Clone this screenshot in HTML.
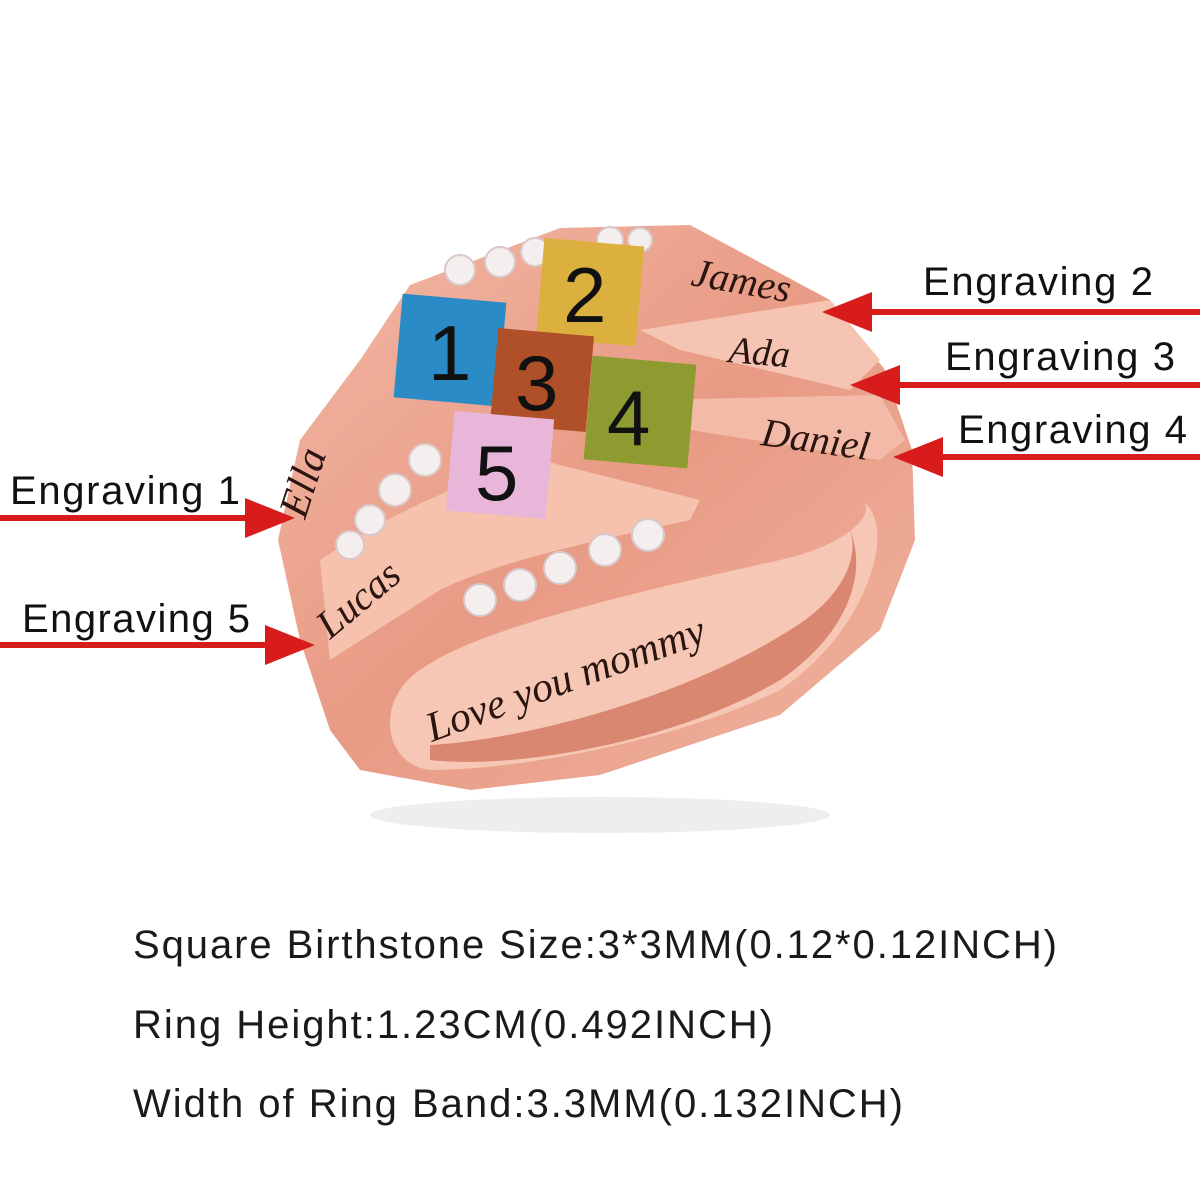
<!DOCTYPE html>
<html><head><meta charset="utf-8"><style>
html,body{margin:0;padding:0;background:#fff;width:1200px;height:1200px;overflow:hidden}
svg{display:block}
.lbl{font-family:"Liberation Sans",sans-serif;font-size:40px;fill:#111}
.num{font-family:"Liberation Sans",sans-serif;font-size:78px;fill:#111}
.eng{font-family:"Liberation Serif",serif;font-style:italic;fill:#2a1510}
.info{font-family:"Liberation Sans",sans-serif;font-size:40px;fill:#1a1a1a}
</style></head><body>
<svg width="1200" height="1200" viewBox="0 0 1200 1200">
<defs>
<linearGradient id="g1" x1="0" y1="0" x2="1" y2="1">
<stop offset="0" stop-color="#f3b9a6"/><stop offset="0.5" stop-color="#e89a84"/><stop offset="1" stop-color="#f0b4a0"/></linearGradient>
</defs>
<ellipse cx="600" cy="815" rx="230" ry="18" fill="#eee"/>
<!-- ring body -->
<path d="M410,285 L560,228 L690,225 L830,300 L885,370 L912,450 L915,540 L880,630 L780,715 L600,775 L470,790 L360,770 L330,730 L300,640 L278,540 L300,440 L360,360 Z" fill="url(#g1)"/>
<!-- inner band -->
<path d="M400,690 C430,640 600,600 780,560 C850,545 880,510 860,500 C900,520 870,630 780,690 C680,740 520,770 430,770 C390,765 380,720 400,690 Z" fill="#f7c7b5"/>
<path d="M430,745 C520,740 680,700 790,630 C840,600 860,560 850,530 C870,580 840,640 780,680 C680,740 520,770 430,760 Z" fill="#d98770"/>
<!-- bands separation highlights -->
<path d="M320,560 C380,520 460,480 540,460 L700,500 L690,520 C600,540 500,560 440,590 L330,660 Z" fill="#f6c2ae"/>
<path d="M640,330 L830,300 L880,360 L850,390 L680,350 Z" fill="#f6c4b2"/>
<path d="M640,400 L880,395 L905,440 L880,460 L690,430 Z" fill="#f3bba7"/>
<!-- diamonds -->
<g fill="#f5eeee" stroke="#d8c8c8" stroke-width="2">
<circle cx="460" cy="270" r="15"/><circle cx="500" cy="262" r="15"/><circle cx="535" cy="252" r="14"/><circle cx="610" cy="240" r="13"/><circle cx="640" cy="240" r="12"/>
<circle cx="425" cy="460" r="16"/><circle cx="395" cy="490" r="16"/><circle cx="370" cy="520" r="15"/><circle cx="350" cy="545" r="14"/>
<circle cx="480" cy="600" r="16"/><circle cx="520" cy="585" r="16"/><circle cx="560" cy="568" r="16"/><circle cx="605" cy="550" r="16"/><circle cx="648" cy="535" r="16"/>
</g>
<!-- stones -->
<rect x="-52" y="-52" width="104" height="104" fill="#2a8bc6" transform="translate(450,350) rotate(5)"/>
<rect x="-50" y="-50" width="100" height="100" fill="#dcb03e" transform="translate(590,292) rotate(5)"/>
<rect x="-48" y="-48" width="96" height="96" fill="#b05028" transform="translate(542,380) rotate(5)"/>
<rect x="-52" y="-52" width="104" height="104" fill="#8d9b30" transform="translate(640,412) rotate(5)"/>
<rect x="-50" y="-50" width="100" height="100" fill="#e8b6d8" transform="translate(500,465) rotate(5)"/>
<text class="num" x="428" y="380">1</text>
<text class="num" x="563" y="322">2</text>
<text class="num" x="515" y="410">3</text>
<text class="num" x="607" y="445">4</text>
<text class="num" x="475" y="500">5</text>
<!-- engravings -->
<text class="eng" font-size="40" x="690" y="285" transform="rotate(10 690 285)">James</text>
<text class="eng" font-size="38" x="728" y="362" transform="rotate(5 728 362)">Ada</text>
<text class="eng" font-size="40" x="760" y="445" transform="rotate(8 760 445)">Daniel</text>
<text class="eng" font-size="42" x="305" y="520" transform="rotate(-72 305 520)">Ella</text>
<text class="eng" font-size="40" x="330" y="640" transform="rotate(-40 330 640)">Lucas</text>
<text class="eng" font-size="42" x="432" y="742" transform="rotate(-20 432 742)">Love you mommy</text>
<!-- arrows -->
<g fill="#d81c1c">
<rect x="868" y="309" width="332" height="6"/><polygon points="822,312 872,292 872,332"/>
<rect x="898" y="382" width="302" height="6"/><polygon points="850,385 900,365 900,405"/>
<rect x="943" y="454" width="257" height="6"/><polygon points="893,457 943,437 943,477"/>
<rect x="0" y="515" width="250" height="6"/><polygon points="295,518 245,498 245,538"/>
<rect x="0" y="642" width="268" height="6"/><polygon points="315,645 265,625 265,665"/>
</g>
<text class="lbl" x="923" y="295" textLength="230">Engraving 2</text>
<text class="lbl" x="945" y="370" textLength="230">Engraving 3</text>
<text class="lbl" x="958" y="443" textLength="229">Engraving 4</text>
<text class="lbl" x="10" y="504" textLength="230">Engraving 1</text>
<text class="lbl" x="22" y="632" textLength="228">Engraving 5</text>
<text class="info" x="133" y="958" textLength="924">Square Birthstone Size:3*3MM(0.12*0.12INCH)</text>
<text class="info" x="133" y="1038" textLength="640">Ring Height:1.23CM(0.492INCH)</text>
<text class="info" x="133" y="1117" textLength="770">Width of Ring Band:3.3MM(0.132INCH)</text>
</svg>
</body></html>
